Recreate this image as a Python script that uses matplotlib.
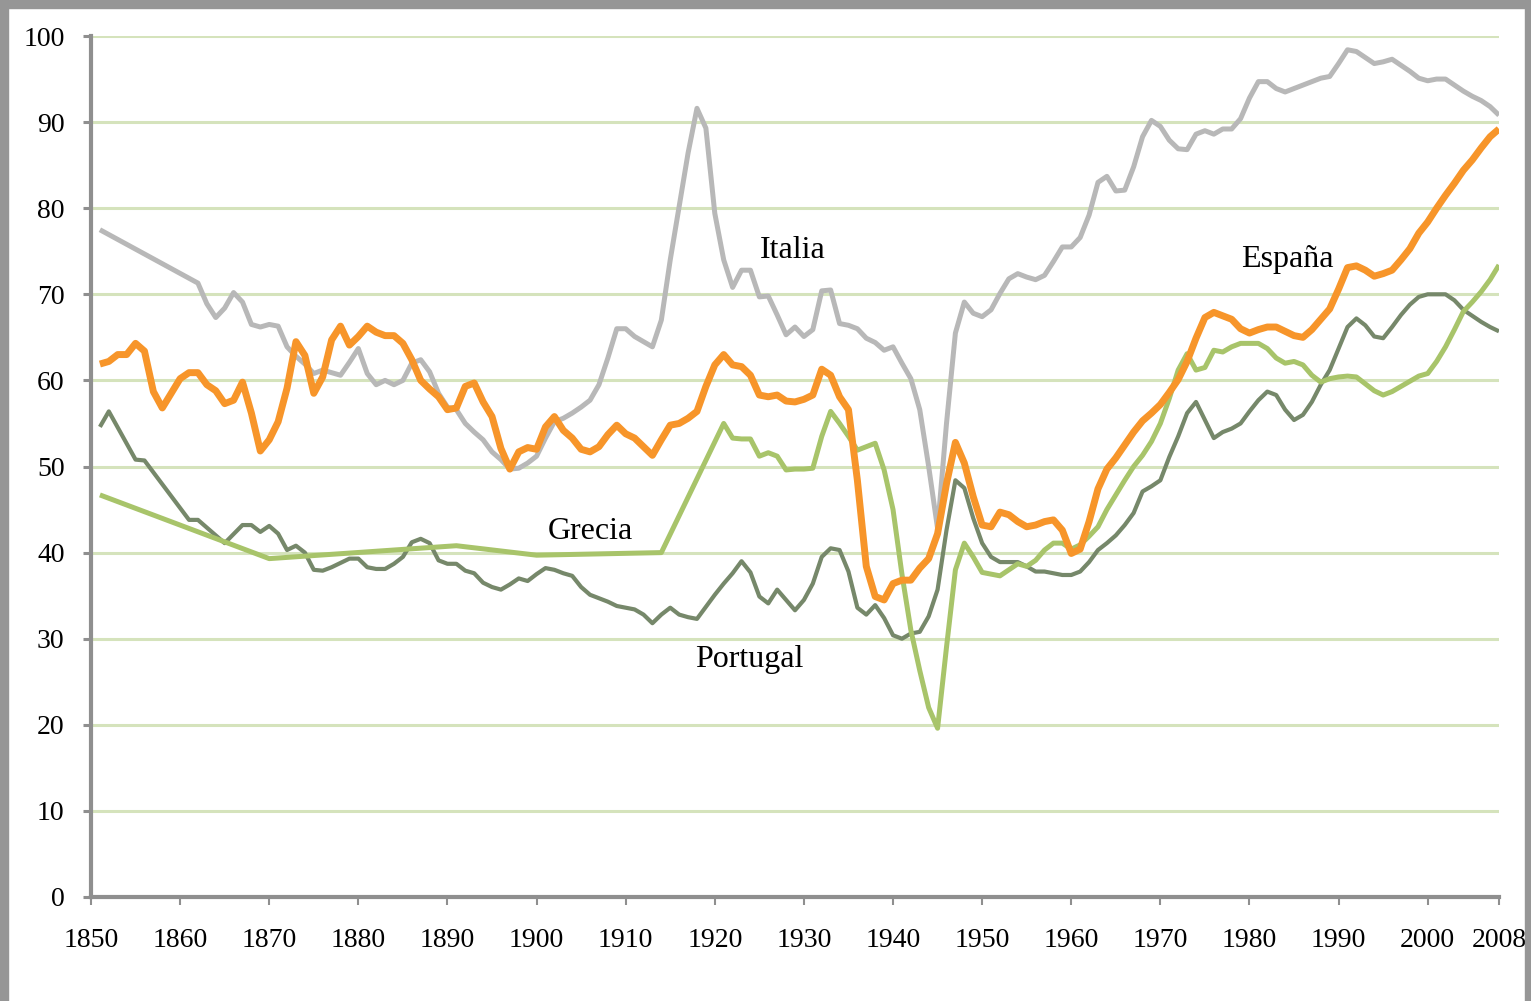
import matplotlib
matplotlib.use("Agg")
import matplotlib.pyplot as plt
from matplotlib.patches import Rectangle

N = None
years = list(range(1851, 2009))

italia = [
    77.5, N, N, N, N, N, N, N, N, N,                                  # 1851-1860
    N, 71.3, 68.9, 67.3, 68.4, 70.2, 69.1, 66.5, 66.2, 66.5,          # 1861-1870
    66.3, 63.9, 62.8, 61.9, 60.8, 61.2, 60.9, 60.6, 62.1, 63.7,       # 1871-1880
    60.8, 59.5, 60.0, 59.5, 60.0, 62.0, 62.4, 61.0, 58.5, 56.9,       # 1881-1890
    56.6, 55.0, 54.0, 53.1, 51.7, 50.8, 49.7, 49.8, 50.4, 51.2,       # 1891-1900
    53.3, 55.2, 55.6, 56.2, 56.9, 57.7, 59.5, 62.6, 66.0, 66.0,       # 1901-1910
    65.1, 64.5, 63.9, 67.0, 74.0, 80.2, 86.4, 91.6, 89.3, 79.4,       # 1911-1920
    74.0, 70.8, 72.8, 72.8, 69.7, 69.8, 67.6, 65.3, 66.2, 65.1,       # 1921-1930
    65.9, 70.4, 70.5, 66.6, 66.4, 66.0, 64.9, 64.4, 63.5, 63.9,       # 1931-1940
    62.0, 60.2, 56.6, 50.0, 42.8, 55.0, 65.5, 69.1, 67.8, 67.4,       # 1941-1950
    68.2, 70.1, 71.8, 72.4, 72.0, 71.7, 72.2, 73.8, 75.5, 75.5,       # 1951-1960
    76.6, 79.2, 83.0, 83.7, 82.0, 82.1, 84.8, 88.3, 90.2, 89.5,       # 1961-1970
    87.9, 86.9, 86.8, 88.6, 89.0, 88.6, 89.2, 89.2, 90.4, 92.8,       # 1971-1980
    94.7, 94.7, 93.9, 93.5, 93.9, 94.3, 94.7, 95.1, 95.3, 96.8,       # 1981-1990
    98.4, 98.2, 97.5, 96.8, 97.0, 97.3, 96.6, 95.9, 95.1, 94.8,       # 1991-2000
    95.0, 95.0, 94.3, 93.6, 93.0, 92.5, 91.8, 90.8,                   # 2001-2008
]

espana = [
    61.9, 62.2, 63.0, 63.0, 64.3, 63.4, 58.7, 56.8, 58.5, 60.2,
    60.9, 60.9, 59.5, 58.8, 57.3, 57.7, 59.8, 56.2, 51.8, 53.1,
    55.2, 59.1, 64.5, 62.9, 58.5, 60.4, 64.7, 66.3, 64.1, 65.1,
    66.3, 65.6, 65.2, 65.2, 64.3, 62.4, 60.0, 59.0, 58.1, 56.6,
    56.8, 59.3, 59.7, 57.5, 55.8, 52.1, 49.7, 51.7, 52.2, 52.0,
    54.6, 55.8, 54.2, 53.3, 52.0, 51.7, 52.3, 53.7, 54.8, 53.8,
    53.3, 52.3, 51.3, 53.1, 54.8, 55.0, 55.6, 56.4, 59.3, 61.8,
    63.0, 61.8, 61.6, 60.6, 58.3, 58.1, 58.3, 57.6, 57.5, 57.8,
    58.3, 61.3, 60.6, 58.1, 56.6, 48.4, 38.4, 34.9, 34.5, 36.4,
    36.8, 36.8, 38.2, 39.3, 42.2, 48.0, 52.8, 50.4, 46.5, 43.2,
    43.0, 44.7, 44.4, 43.6, 43.0, 43.2, 43.6, 43.8, 42.6, 39.9,
    40.4, 43.6, 47.4, 49.7, 51.0, 52.5, 54.0, 55.3, 56.2, 57.2,
    58.6, 60.1, 62.2, 64.9, 67.3, 67.9, 67.5, 67.1, 66.0, 65.5,
    65.9, 66.2, 66.2, 65.7, 65.2, 65.0, 65.9, 67.1, 68.3, 70.6,
    73.1, 73.3, 72.8, 72.1, 72.4, 72.8, 74.0, 75.3, 77.1, 78.4,
    80.0, 81.5, 82.9, 84.4, 85.6, 87.0, 88.3, 89.2,
]

portugal = [
    54.6, 56.4, N, N, 50.8, 50.7, N, N, N, N,
    43.8, 43.8, N, N, 41.1, N, 43.2, 43.2, 42.4, 43.1,
    42.2, 40.3, 40.8, 40.0, 38.0, 37.9, 38.3, 38.8, 39.3, 39.3,
    38.3, 38.1, 38.1, 38.7, 39.5, 41.2, 41.6, 41.1, 39.1, 38.7,
    38.7, 37.9, 37.6, 36.5, 36.0, 35.7, 36.3, 37.0, 36.7, 37.5,
    38.2, 38.0, 37.6, 37.3, 36.0, 35.1, 34.7, 34.3, 33.8, 33.6,
    33.4, 32.8, 31.8, 32.8, 33.6, 32.8, 32.5, 32.3, 33.7, 35.1,
    36.4, 37.6, 39.0, 37.7, 34.9, 34.1, 35.7, 34.5, 33.3, 34.5,
    36.4, 39.5, 40.5, 40.3, 37.8, 33.6, 32.8, 33.9, 32.4, 30.4,
    30.0, 30.6, 30.8, 32.6, 35.7, 42.6, 48.4, 47.5, 44.0, 41.1,
    39.5, 38.9, 38.9, 38.9, 38.4, 37.8, 37.8, 37.6, 37.4, 37.4,
    37.8, 38.9, 40.3, 41.1, 42.0, 43.2, 44.6, 47.1, 47.7, 48.4,
    51.1, 53.5, 56.2, 57.5, 55.4, 53.3, 54.0, 54.4, 55.0, 56.4,
    57.7, 58.7, 58.3, 56.6, 55.4, 56.0, 57.5, 59.5, 61.2, 63.7,
    66.2, 67.2, 66.4, 65.1, 64.9, 66.2, 67.6, 68.8, 69.7, 70.0,
    70.0, 70.0, 69.3, 68.2, 67.5, 66.8, 66.2, 65.7,
]

grecia = [
    46.7, N, N, N, N, N, N, N, N, N,
    N, N, N, N, N, N, N, N, N, 39.3,
    N, N, N, N, N, N, N, N, N, N,
    N, N, N, N, N, N, N, N, N, N,
    40.8, N, N, N, N, N, N, N, N, 39.7,
    N, N, N, N, N, N, N, N, N, N,
    N, N, N, 40.0, N, N, N, N, N, N,
    55.0, 53.3, 53.2, 53.2, 51.2, 51.6, 51.2, 49.6, 49.7, 49.7,
    49.8, 53.5, 56.4, 55.0, 53.5, 51.9, 52.3, 52.7, 49.6, 45.0,
    37.5, 31.0, 26.3, 22.0, 19.6, 29.0, 38.0, 41.1, 39.5, 37.7,
    37.5, 37.3, 38.0, 38.7, 38.4, 39.1, 40.3, 41.1, 41.1, 40.4,
    40.9, 41.9, 43.0, 45.0, 46.7, 48.4, 50.0, 51.3, 52.9, 55.0,
    57.9, 61.2, 63.1, 61.2, 61.5, 63.5, 63.3, 63.9, 64.3, 64.3,
    64.3, 63.7, 62.6, 62.0, 62.2, 61.8, 60.6, 59.8, 60.2, 60.4,
    60.5, 60.4, 59.6, 58.8, 58.3, 58.7, 59.3, 59.9, 60.5, 60.8,
    62.2, 63.9, 65.9, 68.0, 69.1, 70.3, 71.7, 73.4,
]

xtick_years = [1850, 1860, 1870, 1880, 1890, 1900, 1910, 1920, 1930,
               1940, 1950, 1960, 1970, 1980, 1990, 2000, 2008]
xtick_labels = [str(y) for y in xtick_years]
yticks = [0, 10, 20, 30, 40, 50, 60, 70, 80, 90, 100]

labels = ["Italia", "Grecia", "Portugal", "España"]
label_x = [1928.7, 1906.0, 1923.9, 1984.2]
label_y = [75.1, 42.4, 27.6, 74.0]

FONT = "Liberation Serif"
W, H = 1531, 1001

fig = plt.figure(figsize=(W / 100, H / 100), dpi=100)
fig.patch.set_facecolor("white")
ax = fig.add_axes([91 / W, 104 / H, (1499 - 91) / W, 861 / H])


def draw(vals, color, lw, z):
    xs = [yr for yr, v in zip(years, vals) if v is not None]
    ys = [v for v in vals if v is not None]
    ax.plot(xs, ys, color=color, lw=lw, zorder=z,
            solid_joinstyle="round", solid_capstyle="butt")


draw(italia, "#B8B8B8", 3.6, 3)
draw(portugal, "#76886A", 3.0, 4)
draw(grecia, "#A8C46A", 3.6, 5)
draw(espana, "#F7952A", 5.0, 6)

ax.set_xlim(1850, 2008)
ax.set_ylim(0, 100)
ax.set_yticks(yticks)
ax.set_xticks(xtick_years)
ax.set_xticklabels(xtick_labels)

ax.yaxis.grid(True, color="#D5E3BC", lw=2.2)
ax.xaxis.grid(False)
ax.set_axisbelow(True)

for s in ["top", "right"]:
    ax.spines[s].set_visible(False)
for s in ["left", "bottom"]:
    ax.spines[s].set_color("#8F8F8F")
    ax.spines[s].set_linewidth(3.0)
    ax.spines[s].set_zorder(2.5)

ax.tick_params(axis="y", direction="out", length=6, width=2.2,
               color="#8F8F8F", pad=13, labelsize=20)
ax.tick_params(axis="x", direction="out", length=6, width=1.5,
               color="#8F8F8F", pad=16, labelsize=20)
for lab in ax.get_xticklabels() + ax.get_yticklabels():
    lab.set_fontfamily(FONT)

for t, x, y in zip(labels, label_x, label_y):
    ax.text(x, y, t, ha="center", va="center", fontsize=23,
            family=FONT, color="black", zorder=10)

border = "#969696"
fig.patches.append(Rectangle((0, 0), 8 / W, 1, transform=fig.transFigure,
                             color=border, zorder=0))
fig.patches.append(Rectangle((0, 1 - 8 / H), 1, 8 / H, transform=fig.transFigure,
                             color=border, zorder=0))
fig.patches.append(Rectangle((1 - 6 / W, 0), 6 / W, 1, transform=fig.transFigure,
                             color=border, zorder=0))

fig.savefig("out.png", dpi=100, facecolor="white")
